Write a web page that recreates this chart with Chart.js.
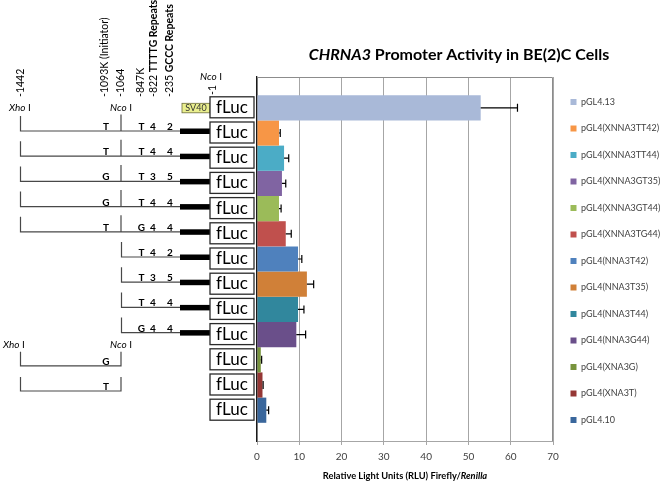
<!DOCTYPE html>
<html>
<head>
<meta charset="utf-8">
<script src="https://cdn.jsdelivr.net/npm/chart.js@4.4.1/dist/chart.umd.min.js"></script>
<style>
  html, body { margin: 0; padding: 0; background: #fff; }
</style>
</head>
<body>
<canvas id="promoterChart" width="661" height="484"></canvas>
<script>
"use strict";

const constructs = [
  "pGL4.13", "pGL4(XNNA3TT42)", "pGL4(XNNA3TT44)", "pGL4(XNNA3GT35)",
  "pGL4(XNNA3GT44)", "pGL4(XNNA3TG44)", "pGL4(NNA3T42)", "pGL4(NNA3T35)",
  "pGL4(NNA3T44)", "pGL4(NNA3G44)", "pGL4(XNA3G)", "pGL4(XNA3T)", "pGL4.10",
];
const rlu = [52.9, 5.2, 6.4, 5.9, 5.2, 6.8, 9.7, 11.8, 9.7, 9.3, 0.9, 1.3, 2.2];
const rluError = [8.7, 0.3, 1.1, 0.9, 0.5, 1.3, 0.9, 1.6, 1.4, 2.2, 0.2, 0.15, 0.55];
const barColors = [
  "#a9b9d8", "#f79646", "#4bacc6", "#8064a2", "#9bbb59", "#c0504d", "#4f81bd",
  "#d08038", "#31879d", "#6a4f8a", "#77933c", "#953735", "#3a679c",
];
const xTicks = [0, 10, 20, 30, 40, 50, 60, 70];

// promoter schematic drawn beside each bar
const initiator = ["", "T", "T", "G", "G", "T", "", "", "", "", "G", "T", ""];
const repeats = ["", "T 4 2", "T 4 4", "T 3 5", "T 4 4", "G 4 4", "T 4 2", "T 3 5", "T 4 4", "G 4 4", "", "", ""];
const fragment = ["sv40", "long", "long", "long", "long", "long", "short", "short", "short", "short", "xn", "xn", "none"];
const siteLabels = ["-1442", "-1093K (Initiator)", "-1064", "-847K", "-822 TTTTG Repeats", "-235 GCCC Repeats"];

const FONT = "Lato, 'Open Sans', sans-serif";
const LINE = "#484848";

function runs(ctx, parts, x, y, align) {
  let total = 0;
  parts.forEach(([t, f]) => { ctx.font = f; total += ctx.measureText(t).width; });
  let cx = align === "center" ? x - total / 2 : x;
  ctx.textAlign = "left";
  parts.forEach(([t, f]) => {
    ctx.font = f;
    ctx.fillText(t, cx, y);
    cx += ctx.measureText(t).width;
  });
}

function enzyme(ctx, name, x, y) {
  runs(ctx, [[name, "italic 10px " + FONT], [" I", "10px " + FONT]], x, y, "left");
}

// small shift of the legend block to sit where the original one does
const legendNudge = {
  id: "legendNudge",
  afterLayout(chart) {
    chart.legend.top += 2;
    chart.legend.bottom += 2;
  },
};

const schematic = {
  id: "schematic",
  afterDraw(chart) {
    const ctx = chart.ctx;
    const area = chart.chartArea;
    const x = chart.scales.x;
    ctx.save();

    // plot frame top / right
    ctx.strokeStyle = "#8c8c8c";
    ctx.lineWidth = 1;
    ctx.beginPath();
    ctx.moveTo(area.left, area.top + 0.5);
    ctx.lineTo(area.right - 0.5, area.top + 0.5);
    ctx.lineTo(area.right - 0.5, area.bottom);
    ctx.stroke();

    // error bars (plus side)
    ctx.strokeStyle = "#000";
    ctx.lineWidth = 1.2;
    constructs.forEach((c, i) => {
      const bar = chart.getDatasetMeta(i).data[0];
      const end = x.getPixelForValue(rlu[i] + rluError[i]);
      ctx.beginPath();
      ctx.moveTo(bar.x, bar.y);
      ctx.lineTo(end, bar.y);
      ctx.moveTo(end, bar.y - 4);
      ctx.lineTo(end, bar.y + 4);
      ctx.stroke();
    });

    // titles
    ctx.fillStyle = "#000";
    ctx.textBaseline = "middle";
    runs(ctx, [["CHRNA3", "italic bold 16px " + FONT], [" Promoter Activity in BE(2)C Cells", "bold 16px " + FONT]],
      (area.left + chart.width) / 2, 55, "center");
    runs(ctx, [["Relative Light Units (RLU) Firefly/", "bold 9.3px " + FONT], ["Renilla", "italic bold 9.3px " + FONT]],
      (area.left + area.right) / 2, 476, "center");

    // rotated site labels
    const siteX = [20.5, 105, 121, 140.5, 153.5, 170];
    siteLabels.forEach((t, k) => {
      ctx.save();
      ctx.translate(siteX[k], 97);
      ctx.rotate(-Math.PI / 2);
      const sp = t.indexOf(" ");
      if (t.includes("Repeats")) {
        runs(ctx, [[t.slice(0, sp), "10.5px " + FONT], [t.slice(sp), "bold 10.5px " + FONT]], 0, 0, "left");
      } else {
        runs(ctx, [[t, "10.5px " + FONT]], 0, 0, "left");
      }
      ctx.restore();
    });
    ctx.save();
    ctx.translate(213, 95);
    ctx.rotate(-Math.PI / 2);
    runs(ctx, [["-1", "10.5px " + FONT]], 0, 0, "left");
    ctx.restore();
    enzyme(ctx, "Nco", 200, 77);

    constructs.forEach((c, i) => {
      const yc = chart.getDatasetMeta(i).data[0].y;
      const kind = fragment[i];
      ctx.strokeStyle = LINE;
      ctx.lineWidth = 1.2;
      ctx.fillStyle = "#000";

      if (kind === "sv40") {
        ctx.fillStyle = "#eaef8e";
        ctx.fillRect(182, yc - 4.5, 28, 9.5);
        ctx.strokeStyle = "#6b6b3a";
        ctx.lineWidth = 0.8;
        ctx.strokeRect(182, yc - 4.5, 28, 9.5);
        ctx.fillStyle = "#333";
        ctx.textAlign = "center";
        ctx.font = "9px " + FONT;
        ctx.fillText("SV40", 196, yc + 0.5);
        ctx.fillStyle = "#000";
        enzyme(ctx, "Xho", 9, yc);
        enzyme(ctx, "Nco", 110, yc);
      }
      if (kind === "long" || kind === "short") {
        const x0 = kind === "long" ? 20.5 : 121.5;
        ctx.beginPath();
        ctx.moveTo(x0, yc - 17);
        ctx.lineTo(x0, yc - 2);
        ctx.lineTo(181, yc - 2);
        if (kind === "long") {
          ctx.moveTo(121, yc - 18.5);
          ctx.lineTo(121, yc - 2);
        }
        ctx.stroke();
        ctx.fillRect(180, yc - 4.5, 30, 5.5);
      }
      if (kind === "xn") {
        if (i === fragment.indexOf("xn")) {
          enzyme(ctx, "Xho", 3, yc - 15);
          enzyme(ctx, "Nco", 110, yc - 15);
        }
        ctx.beginPath();
        ctx.moveTo(20.5, yc - 8);
        ctx.lineTo(20.5, yc + 6);
        ctx.lineTo(121, yc + 6);
        ctx.lineTo(121, yc - 8);
        ctx.stroke();
      }
      ctx.font = "bold 10px " + FONT;
      ctx.textAlign = "center";
      ctx.textBaseline = "alphabetic";
      const base = kind === "xn" ? yc + 5 : yc - 3;
      if (initiator[i]) ctx.fillText(initiator[i], 106, base);
      if (repeats[i]) {
        const r = repeats[i].split(" ");
        [141.5, 153, 170].forEach((px, k) => ctx.fillText(r[k], px, base));
      }
      ctx.textBaseline = "middle";

      // fLuc reporter box
      ctx.fillStyle = "#fff";
      ctx.fillRect(210, yc - 11, 44, 21);
      ctx.strokeStyle = "#2a2a2a";
      ctx.lineWidth = 1.3;
      ctx.strokeRect(210, yc - 11, 44, 21);
      ctx.fillStyle = "#000";
      ctx.font = "17px " + FONT;
      ctx.textAlign = "center";
      ctx.fillText("fLuc", 232, yc - 0.5);
    });
    ctx.restore();
  },
};

new Chart(document.getElementById("promoterChart").getContext("2d"), {
  type: "bar",
  data: {
    labels: [""],
    datasets: constructs.map((name, i) => ({
      label: name,
      data: [rlu[i]],
      backgroundColor: barColors[i],
      borderWidth: 0,
      categoryPercentage: 0.9,
      barPercentage: 1,
    })),
  },
  options: {
    indexAxis: "y",
    responsive: false,
    animation: false,
    devicePixelRatio: 1,
    layout: { padding: { left: 257, top: 77, bottom: 15, right: 0 } },
    scales: {
      x: {
        min: 0,
        max: 70,
        afterBuildTicks: (s) => { s.ticks = xTicks.map((v) => ({ value: v })); },
        ticks: { font: { family: FONT, size: 10 }, color: "#404040", padding: 6 },
        grid: { color: "#a6a6a6", tickLength: 4 },
        border: { color: "#a6a6a6" },
      },
      y: {
        grid: { display: false, drawTicks: false },
        ticks: { display: false },
        border: { color: "#1a1a1a", width: 1.3 },
      },
    },
    plugins: {
      tooltip: { enabled: false },
      legend: {
        position: "right",
        fullSize: false,
        maxWidth: 108,
        labels: {
          boxWidth: 6,
          boxHeight: 6,
          padding: 17.5,
          color: "#404040",
          font: { family: FONT, size: 9 },
        },
      },
    },
  },
  plugins: [legendNudge, schematic],
});
</script>
</body>
</html>
